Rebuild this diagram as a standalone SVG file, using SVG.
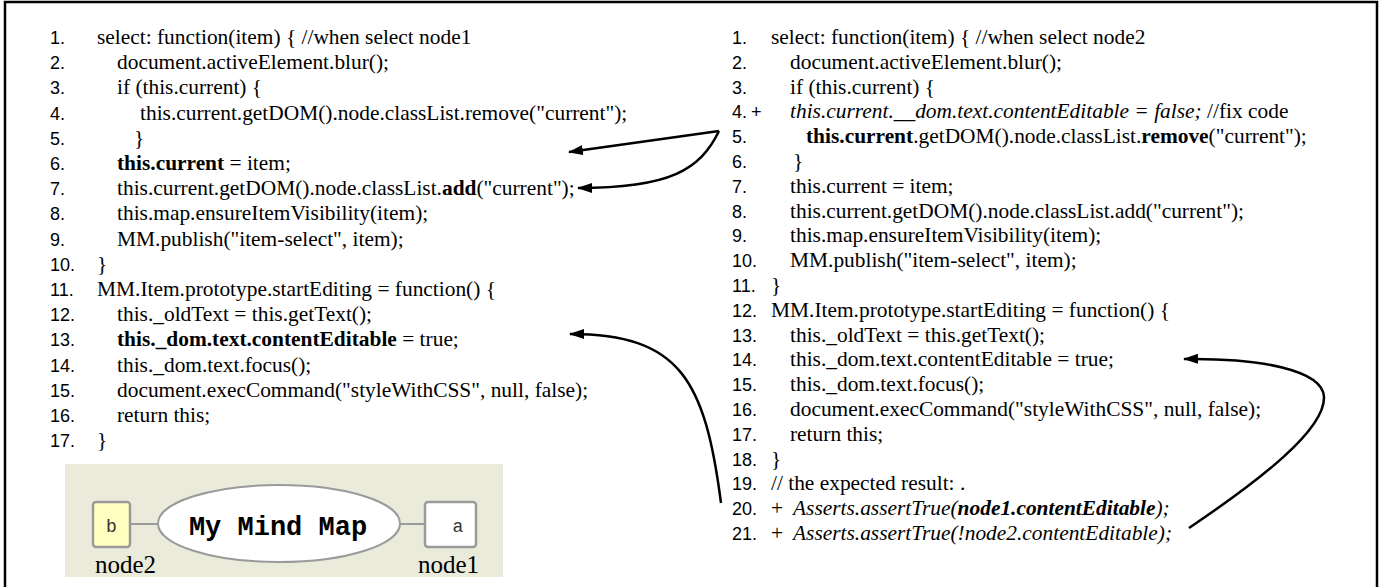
<svg xmlns="http://www.w3.org/2000/svg" width="1382" height="587" viewBox="0 0 1382 587">
<style>
.c{font-family:"Liberation Serif","Times New Roman",serif;font-size:21.4px;fill:#000}
.n{font-family:"Liberation Sans",Arial,sans-serif;font-size:18px;fill:#000}
.b{font-weight:bold}
.i{font-style:italic}
.cn{fill:none;stroke:#000;stroke-width:2.5}
.mm{fill:none;stroke:#9a9a9a;stroke-width:2}
.lbl{font-family:"Liberation Serif","Times New Roman",serif;font-size:25px;fill:#000}
.nt{font-family:"Liberation Mono","Courier New",monospace;font-size:18px;fill:#333}
</style>
<defs>
<marker id="ah" markerUnits="userSpaceOnUse" markerWidth="16" markerHeight="12" refX="14" refY="5" orient="auto">
<path d="M0,0 L15,5 L0,10 z" fill="#000"/>
</marker>
</defs>
<rect width="1382" height="587" fill="#fff"/>
<path d="M5,588 V2 H1377 V588" fill="none" stroke="#000" stroke-width="2.5"/>

<g id="left-code">
<text class="n" x="50" y="44">1.</text><text class="c" x="97" y="44">select: function(item) { //when select node1</text>
<text class="n" x="50" y="69.2">2.</text><text class="c" x="117" y="69.2">document.activeElement.blur();</text>
<text class="n" x="50" y="94.4">3.</text><text class="c" x="117" y="94.4">if (this.current) {</text>
<text class="n" x="50" y="119.6">4.</text><text class="c" x="140" y="119.6">this.current.getDOM().node.classList.remove("current");</text>
<text class="n" x="50" y="144.8">5.</text><text class="c" x="134" y="144.8">}</text>
<text class="n" x="50" y="170">6.</text><text class="c" x="117" y="170"><tspan class="b">this.current</tspan> = item;</text>
<text class="n" x="50" y="195.2">7.</text><text class="c" x="117" y="195.2">this.current.getDOM().node.classList.<tspan class="b">add</tspan>("current");</text>
<text class="n" x="50" y="220.4">8.</text><text class="c" x="117" y="220.4">this.map.ensureItemVisibility(item);</text>
<text class="n" x="50" y="245.6">9.</text><text class="c" x="117" y="245.6">MM.publish("item-select", item);</text>
<text class="n" x="50" y="270.8">10.</text><text class="c" x="97" y="270.8">}</text>
<text class="n" x="50" y="296">11.</text><text class="c" x="97" y="296">MM.Item.prototype.startEditing = function() {</text>
<text class="n" x="50" y="321.2">12.</text><text class="c" x="117" y="321.2">this._oldText = this.getText();</text>
<text class="n" x="50" y="346.4">13.</text><text class="c" x="117" y="346.4"><tspan class="b">this._dom.text.contentEditable</tspan> = true;</text>
<text class="n" x="50" y="371.6">14.</text><text class="c" x="117" y="371.6">this._dom.text.focus();</text>
<text class="n" x="50" y="396.8">15.</text><text class="c" x="117" y="396.8">document.execCommand("styleWithCSS", null, false);</text>
<text class="n" x="50" y="422">16.</text><text class="c" x="117" y="422">return this;</text>
<text class="n" x="50" y="447.2">17.</text><text class="c" x="97" y="447.2">}</text>
</g>

<g id="right-code">
<text class="n" x="732" y="44">1.</text><text class="c" x="771" y="44">select: function(item) { //when select node2</text>
<text class="n" x="732" y="68.8">2.</text><text class="c" x="790" y="68.8">document.activeElement.blur();</text>
<text class="n" x="732" y="93.6">3.</text><text class="c" x="790" y="93.6">if (this.current) {</text>
<text class="n" x="732" y="118.4">4.</text><text class="n" x="751" y="118.4">+</text><text class="c" x="790" y="118.4"><tspan class="i">this.current.__dom.text.contentEditable = false;</tspan> //fix code</text>
<text class="n" x="732" y="143.2">5.</text><text class="c" x="806" y="143.2"><tspan class="b">this.current</tspan>.getDOM().node.classList.<tspan class="b">remove</tspan>("current");</text>
<text class="n" x="732" y="168">6.</text><text class="c" x="793" y="168">}</text>
<text class="n" x="732" y="192.8">7.</text><text class="c" x="790" y="192.8">this.current = item;</text>
<text class="n" x="732" y="217.6">8.</text><text class="c" x="790" y="217.6">this.current.getDOM().node.classList.add("current");</text>
<text class="n" x="732" y="242.4">9.</text><text class="c" x="790" y="242.4">this.map.ensureItemVisibility(item);</text>
<text class="n" x="732" y="267.2">10.</text><text class="c" x="790" y="267.2">MM.publish("item-select", item);</text>
<text class="n" x="732" y="292">11.</text><text class="c" x="771" y="292">}</text>
<text class="n" x="732" y="316.8">12.</text><text class="c" x="771" y="316.8">MM.Item.prototype.startEditing = function() {</text>
<text class="n" x="732" y="341.6">13.</text><text class="c" x="790" y="341.6">this._oldText = this.getText();</text>
<text class="n" x="732" y="366.4">14.</text><text class="c" x="790" y="366.4">this._dom.text.contentEditable = true;</text>
<text class="n" x="732" y="391.2">15.</text><text class="c" x="790" y="391.2">this._dom.text.focus();</text>
<text class="n" x="732" y="416">16.</text><text class="c" x="790" y="416">document.execCommand("styleWithCSS", null, false);</text>
<text class="n" x="732" y="440.8">17.</text><text class="c" x="790" y="440.8">return this;</text>
<text class="n" x="732" y="465.6">18.</text><text class="c" x="771" y="465.6">}</text>
<text class="n" x="732" y="490.4">19.</text><text class="c" x="771" y="490.4">// the expected result: .</text>
<text class="n" x="732" y="515.2">20.</text><text class="c" x="771" y="515.2">+</text><text class="c i" x="793" y="515.2">Asserts.assertTrue(<tspan class="b">node1.contentEditable</tspan>);</text>
<text class="n" x="732" y="540">21.</text><text class="c" x="771" y="540">+</text><text class="c i" x="793" y="540">Asserts.assertTrue(!node2.contentEditable);</text>
</g>

<g id="mindmap">
<rect x="65" y="464" width="438" height="113" fill="#ebebdc"/>
<line class="mm" x1="130" y1="524" x2="158" y2="524"/>
<line class="mm" x1="400" y1="524" x2="425" y2="524"/>
<g id="node2-box">
<rect x="93" y="502" width="37" height="45" rx="3" fill="#ffffc0" stroke="#9a9a9a" stroke-width="2.5"/>
<text class="nt" x="111.5" y="532" text-anchor="middle">b</text>
</g>
<g id="root">
<ellipse cx="279" cy="523.5" rx="121" ry="38.5" fill="#fff" stroke="#9a9a9a" stroke-width="2"/>
<text x="278" y="535" text-anchor="middle" font-family="Liberation Mono, Courier New, monospace" font-size="27" font-weight="bold" fill="#000">My Mind Map</text>
</g>
<g id="node1-box">
<rect x="425" y="502" width="51" height="45" rx="3" fill="#fff" stroke="#9a9a9a" stroke-width="2.5"/>
<text class="nt" x="458" y="532" text-anchor="middle">a</text>
</g>
<text class="lbl" x="95" y="573">node2</text>
<text class="lbl" x="418" y="573">node1</text>
</g>

<g id="connectors">
<line class="cn" x1="719" y1="131" x2="569" y2="152" marker-end="url(#ah)"/>
<path class="cn" d="M719,131 C700,170 670,188 578,188" marker-end="url(#ah)"/>
<path class="cn" d="M721,503 C705,380 680,334 570,334" marker-end="url(#ah)"/>
<path class="cn" d="M1189,528 C1260,480 1325,430 1324,397 C1323,370 1260,358 1184,359" marker-end="url(#ah)"/>
</g>
</svg>
